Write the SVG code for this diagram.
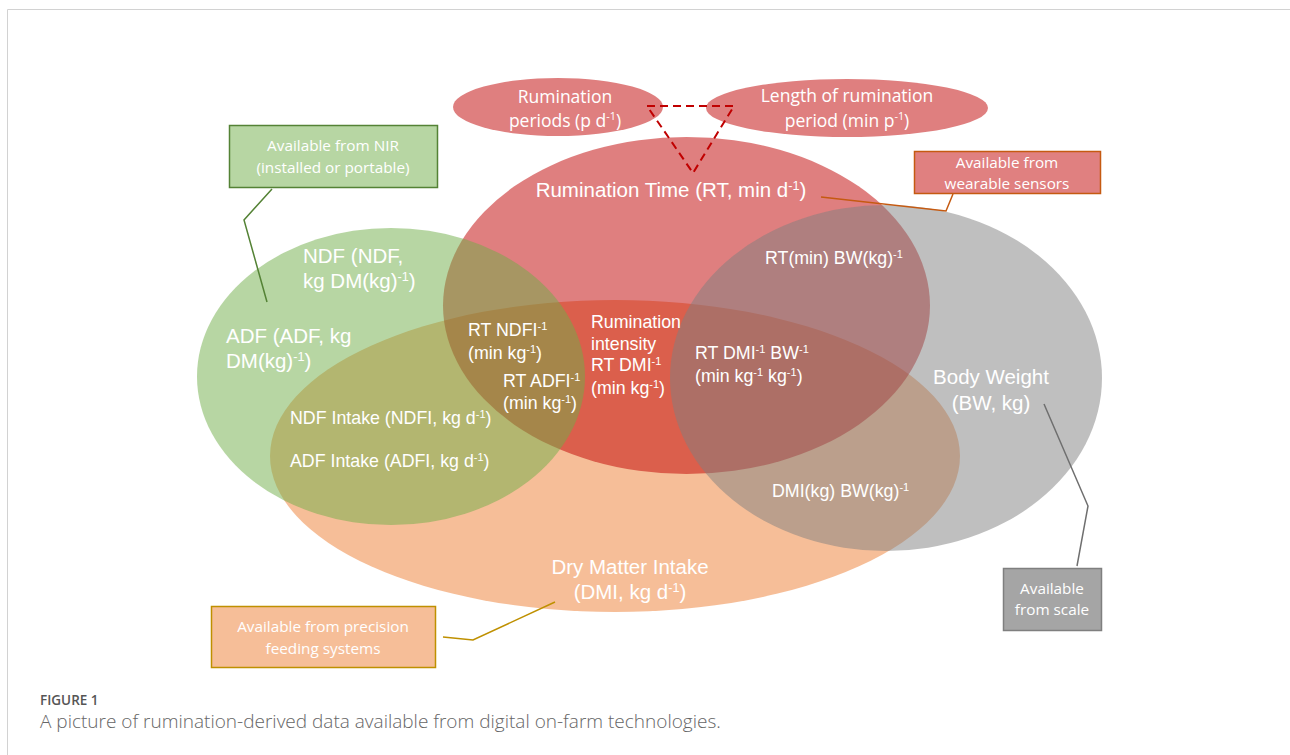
<svg xmlns="http://www.w3.org/2000/svg" width="1290" height="755" viewBox="0 0 1290 755">
<style>
.big{font-family:"Liberation Sans",Arial,sans-serif;font-size:20.5px;fill:#fff}
.mid{font-family:"Liberation Sans",Arial,sans-serif;font-size:17.8px;fill:#fff}
.cal{font-family:"Open Sans","Noto Sans",sans-serif;font-size:17.5px;fill:#fff}
.box{font-family:"Open Sans","Noto Sans",sans-serif;font-size:15.3px;fill:#fff}
.sup{baseline-shift:super;font-size:62%}
.c{text-anchor:middle}
.lead{fill:none;stroke-width:1.5}
</style>
<rect x="0" y="0" width="1290" height="755" fill="#fff"/>
<path d="M7.5 755V9.5H1290" fill="none" stroke="#d2d2d2" stroke-width="1"/>

<g id="dmi">
<ellipse cx="615" cy="456" rx="345" ry="156" fill="#ED7D31" fill-opacity="0.5"/>
</g>
<g id="rt">
<ellipse cx="686.5" cy="305.5" rx="243.5" ry="168.5" fill="#C00000" fill-opacity="0.5"/>
</g>
<g id="ndf">
<ellipse cx="391" cy="376.5" rx="194" ry="148.5" fill="#70AD47" fill-opacity="0.5"/>
</g>
<g id="bw">
<ellipse cx="886" cy="378" rx="216" ry="173" fill="#7F7F7F" fill-opacity="0.5"/>
</g>
<g id="periods">
<ellipse cx="558" cy="107" rx="105" ry="29" fill="#C00000" fill-opacity="0.5"/>
</g>
<g id="length">
<ellipse cx="847" cy="108" rx="141" ry="29" fill="#C00000" fill-opacity="0.5"/>
</g>

<g id="connectors">
<path d="M647 106H734L693 173Z" fill="none" stroke="#C00000" stroke-width="2" stroke-dasharray="8,5"/>
<polyline class="lead" points="272,189 244,220 267,302" stroke="#548235"/>
<polyline class="lead" points="821,197 946,211 953,194" stroke="#C55A11"/>
<polyline class="lead" points="1044,404 1088,506 1077,566" stroke="#6F6F6F"/>
<polyline class="lead" points="555,602 473,640 443,637" stroke="#BF9000"/>
</g>

<g id="box-nir">
<rect x="229.5" y="125.5" width="208" height="62" fill="#B7D6A3" stroke="#548235" stroke-width="1.5"/>
<text class="box c" x="333" y="151">Available from NIR</text>
<text class="box c" x="333" y="173">(installed or portable)</text>
</g>
<g id="box-wearable">
<rect x="914.5" y="151.5" width="186" height="42" fill="#E08080" stroke="#C55A11" stroke-width="1.5"/>
<text class="box c" x="1007" y="168">Available from</text>
<text class="box c" x="1007" y="189">wearable sensors</text>
</g>
<g id="box-scale">
<rect x="1003.5" y="568.5" width="98" height="62" fill="#A5A5A5" stroke="#7F7F7F" stroke-width="1.5"/>
<text class="box c" x="1052" y="594">Available</text>
<text class="box c" x="1052" y="615">from scale</text>
</g>
<g id="box-precision">
<rect x="211.5" y="606.5" width="224" height="61" fill="#F6BE98" stroke="#BF9000" stroke-width="1.5"/>
<text class="box c" x="323" y="632">Available from precision</text>
<text class="box c" x="323" y="654">feeding systems</text>
</g>

<g id="labels-top">
<text class="cal c" x="565" y="103">Rumination</text>
<text class="cal c" x="565" y="127">periods (p d<tspan class="sup">-1</tspan>)</text>
<text class="cal c" x="847" y="102">Length of rumination</text>
<text class="cal c" x="847" y="127">period (min p<tspan class="sup">-1</tspan>)</text>
</g>

<g id="labels">
<text class="big c" x="671" y="197">Rumination Time (RT, min d<tspan class="sup">-1</tspan>)</text>
<text class="big" x="303" y="263">NDF (NDF,</text>
<text class="big" x="303" y="288">kg DM(kg)<tspan class="sup">-1</tspan>)</text>
<text class="big" x="226" y="343">ADF (ADF, kg</text>
<text class="big" x="226" y="368">DM(kg)<tspan class="sup">-1</tspan>)</text>
<text class="big c" x="991" y="384">Body Weight</text>
<text class="big c" x="991" y="410">(BW, kg)</text>
<text class="big c" x="630" y="574">Dry Matter Intake</text>
<text class="big c" x="630" y="599">(DMI, kg d<tspan class="sup">-1</tspan>)</text>

<text class="mid" x="765" y="264">RT(min) BW(kg)<tspan class="sup">-1</tspan></text>
<text class="mid" x="468" y="336">RT NDFI<tspan class="sup">-1</tspan></text>
<text class="mid" x="468" y="359">(min kg<tspan class="sup">-1</tspan>)</text>
<text class="mid" x="591" y="328">Rumination</text>
<text class="mid" x="591" y="350">intensity</text>
<text class="mid" x="591" y="371">RT DMI<tspan class="sup">-1</tspan></text>
<text class="mid" x="591" y="394">(min kg<tspan class="sup">-1</tspan>)</text>
<text class="mid" x="503" y="387">RT ADFI<tspan class="sup">-1</tspan></text>
<text class="mid" x="503" y="409">(min kg<tspan class="sup">-1</tspan>)</text>
<text class="mid" x="695" y="359">RT DMI<tspan class="sup">-1</tspan> BW<tspan class="sup">-1</tspan></text>
<text class="mid" x="695" y="382">(min kg<tspan class="sup">-1</tspan> kg<tspan class="sup">-1</tspan>)</text>
<text class="mid" x="290" y="424">NDF Intake (NDFI, kg d<tspan class="sup">-1</tspan>)</text>
<text class="mid" x="290" y="467">ADF Intake (ADFI, kg d<tspan class="sup">-1</tspan>)</text>
<text class="mid" x="772" y="497">DMI(kg) BW(kg)<tspan class="sup">-1</tspan></text>
</g>

<g id="caption">
<text x="40" y="705" font-family="'Open Sans','Noto Sans',sans-serif" font-size="13.5" font-weight="600" fill="#555">FIGURE 1</text>
<text x="40" y="728" font-family="'Open Sans','Noto Sans',sans-serif" font-size="19" font-weight="300" fill="#666">A picture of rumination-derived data available from digital on-farm technologies.</text>
</g>
</svg>
